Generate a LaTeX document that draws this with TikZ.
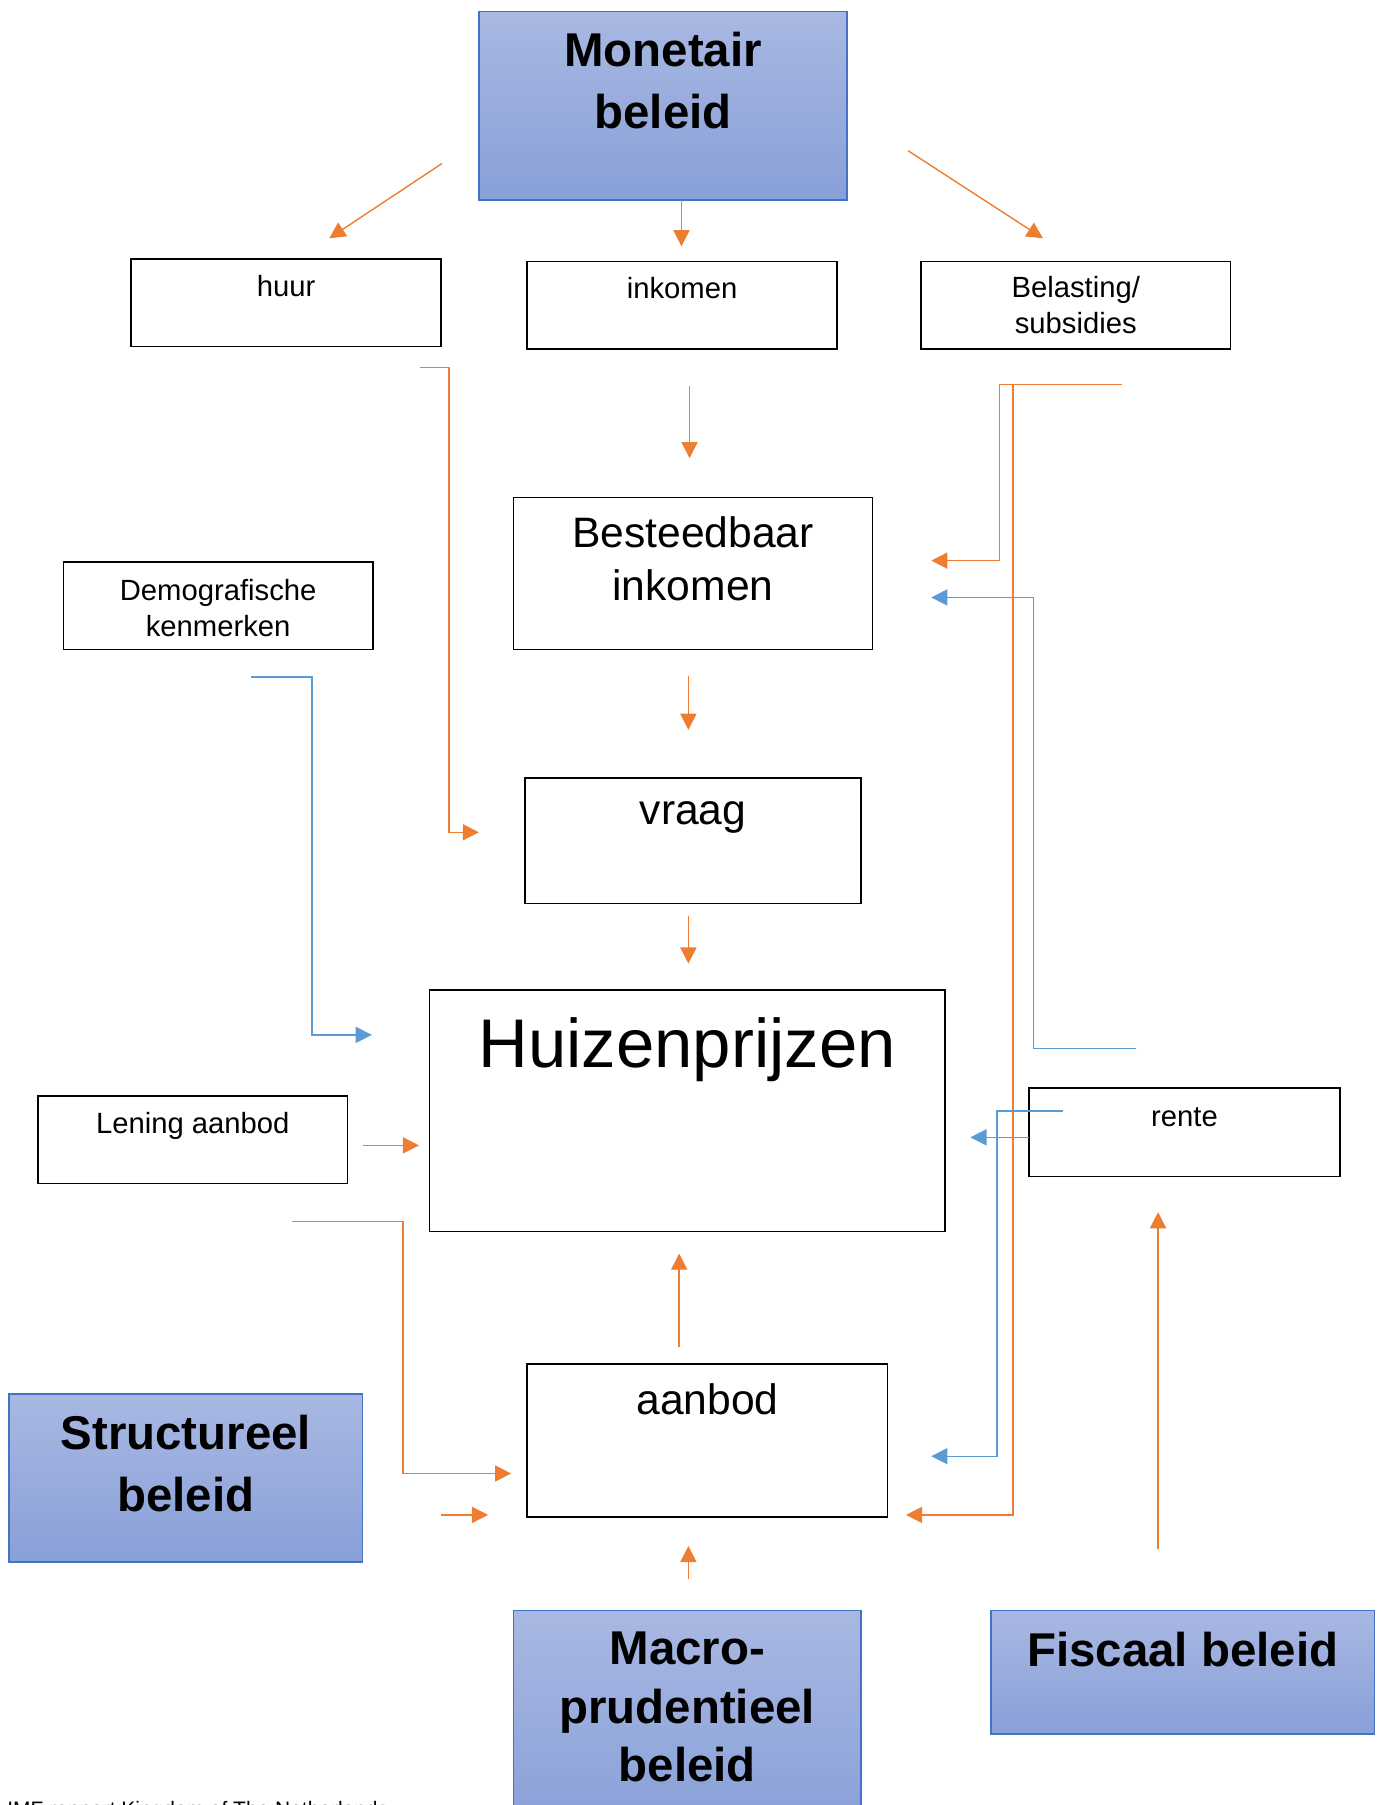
\documentclass[tikz,border=0pt]{standalone}
\usepackage{fontspec}
\setmainfont{Liberation Sans}
\usetikzlibrary{arrows.meta}
\definecolor{orng}{RGB}{237,125,49}
\definecolor{blu}{RGB}{91,155,213}
\definecolor{bbord}{RGB}{68,114,196}
\definecolor{gtop}{RGB}{169,184,226}
\definecolor{gbot}{RGB}{136,160,216}
\begin{document}
\begin{tikzpicture}[x=0.5pt,y=-0.5pt,
  wbox/.style={draw=black, line width=0.65pt, fill=white, inner sep=0pt},
  pbox/.style={draw=bbord, line width=0.75pt, top color=gtop, bottom color=gbot, inner sep=0pt},
  small/.style={anchor=base, align=center, inner sep=0pt, font=\fontsize{12.7pt}{15.8pt}\selectfont},
  medium/.style={anchor=base, align=center, inner sep=0pt, font=\fontsize{18.5pt}{23pt}\selectfont},
  large/.style={anchor=base, align=center, inner sep=0pt, font=\fontsize{29.9pt}{35pt}\selectfont},
  boldt/.style={anchor=base, align=center, inner sep=0pt, font=\bfseries\fontsize{20.6pt}{27pt}\selectfont},
  oarr/.style={draw=orng, line width=0.6pt, -{Triangle[length=7pt,width=7pt]}},
  barr/.style={draw=blu, line width=0.6pt, -{Triangle[length=7pt,width=7pt]}}
]
\useasboundingbox (0,0) rectangle (1201,1568);

% boxes
\node[pbox, minimum width=160pt, minimum height=82pt] (mon) at (576,92) {};
\node[wbox, minimum width=134.5pt, minimum height=38pt] (huur) at (248.5,263) {};
\node[wbox, minimum width=134.5pt, minimum height=38pt] (ink) at (592.5,265) {};
\node[wbox, minimum width=134.5pt, minimum height=38pt] (bel) at (934.5,265) {};
\node[wbox, minimum width=156pt, minimum height=66pt] (best) at (602,498) {};
\node[wbox, minimum width=134.5pt, minimum height=38pt] (demo) at (189.5,526) {};
\node[wbox, minimum width=146pt, minimum height=54.5pt] (vraag) at (602,730.5) {};
\node[wbox, minimum width=224pt, minimum height=105pt] (huiz) at (597,965) {};
\node[wbox, minimum width=134.5pt, minimum height=38pt] (len) at (167.5,990) {};
\node[wbox, minimum width=135pt, minimum height=38.5pt] (rente) at (1029,983.5) {};
\node[wbox, minimum width=156.5pt, minimum height=66.5pt] (aanb) at (614.5,1251.5) {};
\node[pbox, minimum width=153.5pt, minimum height=73pt] (struc) at (161.5,1284) {};
\node[pbox, minimum width=151pt, minimum height=95.5pt] (macro) at (597,1494.5) {};
\node[pbox, minimum width=166.5pt, minimum height=53.5pt] (fisc) at (1027.5,1452.5) {};

% texts (anchor=base refers to the last line of each text)
\node[boldt] (mon-t) at (576,112) {Monetair\\beleid};
\node[small] (huur-t) at (248.5,258) {huur};
\node[small] (ink-t) at (592.5,259) {inkomen};
\node[small] (bel-t) at (934.5,290) {Belasting/\\subsidies};
\node[medium] (best-t) at (602,522) {Besteedbaar\\inkomen};
\node[small] (demo-t) at (189.5,553) {Demografische\\kenmerken};
\node[medium] (vraag-t) at (602,716) {vraag};
\node[large] (huiz-t) at (597,927) {Huizenprijzen};
\node[small] (len-t) at (167.5,985) {Lening aanbod};
\node[small] (rente-t) at (1029,979) {rente};
\node[medium] (aanb-t) at (614.5,1229) {aanbod};
\node[boldt] (struc-t) at (161.5,1313) {Structureel\\beleid};
\node[boldt, font=\bfseries\fontsize{20.6pt}{25.5pt}\selectfont] (macro-t) at (597,1548) {Macro-\\prudentieel\\beleid};
\node[boldt] (fisc-t) at (1027.5,1448) {Fiscaal beleid};
\node[anchor=base west, inner sep=0pt, font=\fontsize{9.1pt}{11pt}\selectfont] (src) at (6,1578) {IMF rapport Kingdom of The Netherlands};

% connector end points
\coordinate (a1s) at (384,142);  \coordinate (a1e) at (286,207);
\coordinate (a2s) at (592,174);  \coordinate (a2e) at (592,214);
\coordinate (a3s) at (789,131);  \coordinate (a3e) at (906,207);
\coordinate (a4s) at (599,335);  \coordinate (a4e) at (599,398);
\coordinate (a5s) at (598,587);  \coordinate (a5e) at (598,634);
\coordinate (a6s) at (598,796);  \coordinate (a6e) at (598,837);
\coordinate (a7s) at (365,319);  \coordinate (a7e) at (416,723);
\coordinate (a8s) at (218,588);  \coordinate (a8e) at (323,899);
\coordinate (a9s) at (975,334);  \coordinate (a9e) at (809,487);
\coordinate (a10s) at (930,334); \coordinate (a10e) at (787,1316);
\coordinate (a11s) at (987,911); \coordinate (a11e) at (809,519);
\coordinate (a12s) at (894,988); \coordinate (a12e) at (843,988);
\coordinate (a13s) at (923,965); \coordinate (a13e) at (809,1265);
\coordinate (a14s) at (315,995); \coordinate (a14e) at (364,995);
\coordinate (a15s) at (254,1061); \coordinate (a15e) at (444,1280);
\coordinate (a16s) at (383,1316); \coordinate (a16e) at (424,1316);
\coordinate (a17s) at (590,1170); \coordinate (a17e) at (590,1089);
\coordinate (a18s) at (598,1372); \coordinate (a18e) at (598,1343);
\coordinate (a19s) at (1006,1346); \coordinate (a19e) at (1006,1053);

% connectors
\draw[oarr] (a1s) -- (a1e);
\draw[oarr] (a2s) -- (a2e);
\draw[oarr] (a3s) -- (a3e);
\draw[oarr] (a4s) -- (a4e);
\draw[oarr] (a5s) -- (a5e);
\draw[oarr] (a6s) -- (a6e);
\draw[oarr] (a7s) -- (390,319) -- (390,723) -- (a7e);
\draw[barr] (a8s) -- (271,588) -- (271,899) -- (a8e);
\draw[oarr] (a9s) -- (868,334) -- (868,487) -- (a9e);
\draw[oarr] (a10s) -- (880,334) -- (880,1316) -- (a10e);
\draw[barr] (a11s) -- (898,911) -- (898,519) -- (a11e);
\draw[barr] (a12s) -- (a12e);
\draw[barr] (a13s) -- (866,965) -- (866,1265) -- (a13e);
\draw[oarr] (a14s) -- (a14e);
\draw[oarr] (a15s) -- (350,1061) -- (350,1280) -- (a15e);
\draw[oarr] (a16s) -- (a16e);
\draw[oarr] (a17s) -- (a17e);
\draw[oarr] (a18s) -- (a18e);
\draw[oarr] (a19s) -- (a19e);
\end{tikzpicture}
\end{document}
